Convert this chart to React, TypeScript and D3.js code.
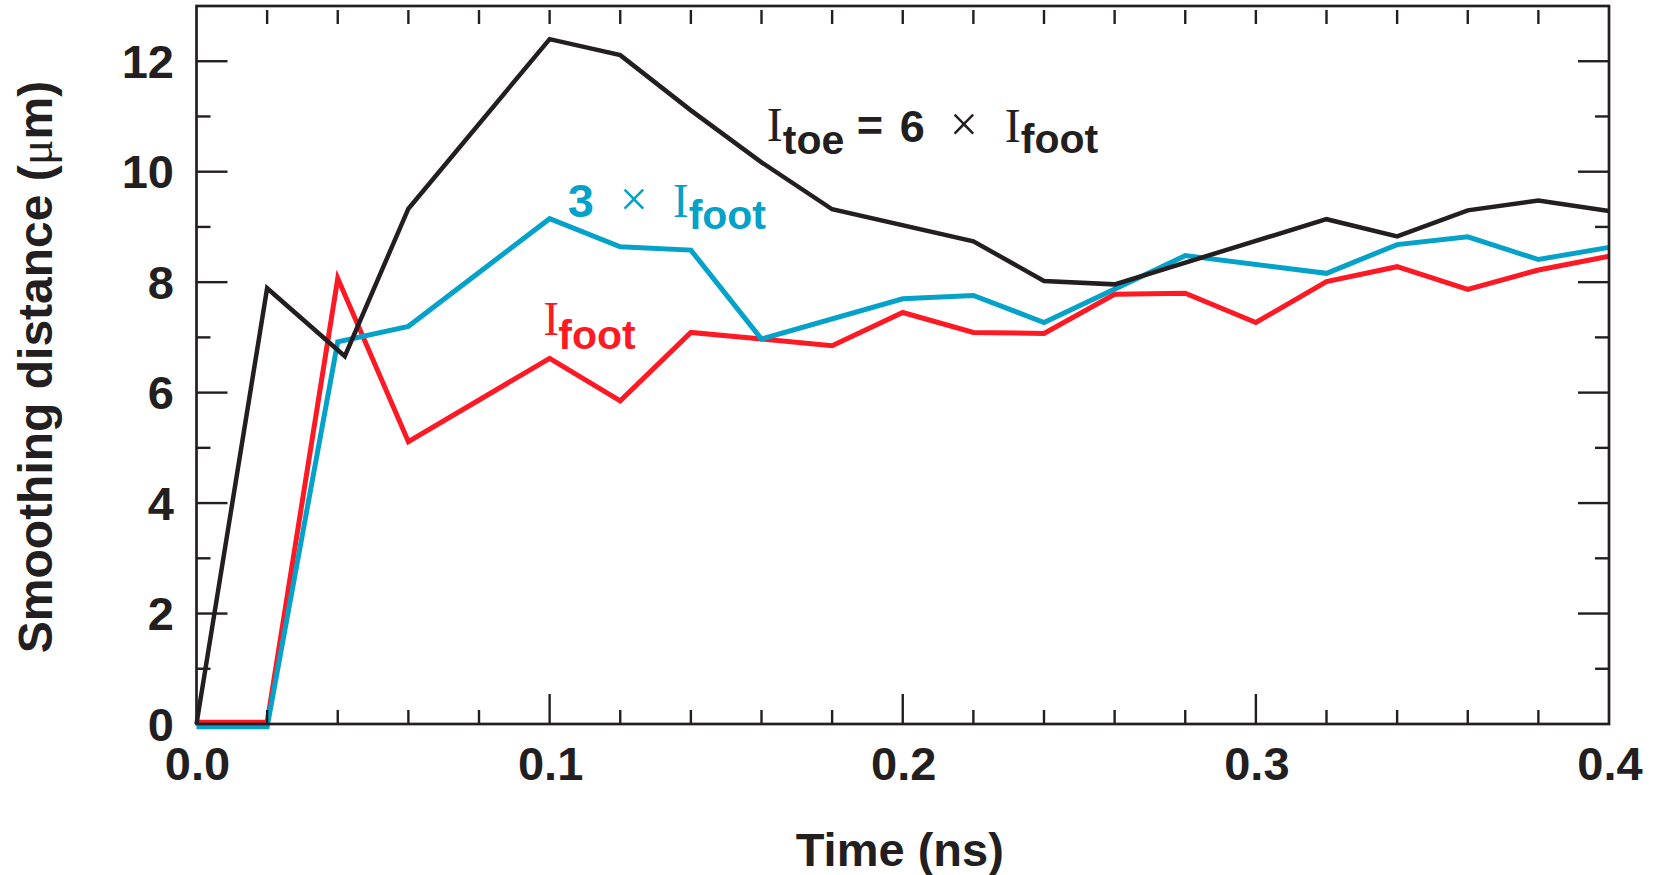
import React from "react";
import * as d3 from "d3";

// ---- Data ----
const toeX = [0, 0.02, 0.042, 0.06, 0.10, 0.12, 0.14, 0.16, 0.18, 0.22, 0.24, 0.26, 0.32, 0.34, 0.36, 0.38, 0.40];
const toeY = [0, 7.89, 6.66, 9.33, 12.40, 12.11, 11.11, 10.17, 9.32, 8.74, 8.02, 7.96, 9.14, 8.83, 9.30, 9.48, 9.29];

const threeX = [0, 0.02, 0.04, 0.06, 0.10, 0.12, 0.14, 0.16, 0.20, 0.22, 0.24, 0.28, 0.32, 0.34, 0.36, 0.38, 0.40];
const threeY = [-0.05, -0.05, 6.92, 7.20, 9.15, 8.64, 8.58, 6.97, 7.70, 7.76, 7.27, 8.48, 8.16, 8.68, 8.82, 8.41, 8.63];

const footX = [0, 0.02, 0.04, 0.06, 0.10, 0.12, 0.14, 0.16, 0.18, 0.20, 0.22, 0.24, 0.26, 0.28, 0.30, 0.32, 0.34, 0.36, 0.38, 0.40];
const footY = [0.03, 0.03, 8.07, 5.11, 6.62, 5.85, 7.09, 6.97, 6.85, 7.45, 7.09, 7.07, 7.78, 7.80, 7.27, 8.01, 8.28, 7.87, 8.22, 8.47];

const xTickLabels = [0, 0.1, 0.2, 0.3, 0.4];
const yTickLabels = [0, 2, 4, 6, 8, 10, 12];

const W = 1659;
const H = 875;
const M = { left: 196.5, right: 1609, top: 6, bottom: 724 };

const INK = "#231f20";
const BLUE = "#04a2c8";
const RED = "#fe1a24";
const SANS = "'Liberation Sans', Arial, Helvetica, sans-serif";
const SERIF = "'Liberation Serif', 'Times New Roman', serif";

export default function App() {
  const x = d3.scaleLinear().domain([0, 0.4]).range([M.left, M.right]);
  const y = d3.scaleLinear().domain([0, 13]).range([M.bottom, M.top]);

  const line = d3
    .line<[number, number]>()
    .x((d) => x(d[0]))
    .y((d) => y(d[1]))
    .curve(d3.curveLinear);

  const zip = (xs: number[], ys: number[]) => xs.map((v, i) => [v, ys[i]] as [number, number]);

  const xMinor = d3.range(1, 20).map((i) => i * 0.02);
  const yMinor = d3.range(1, 13);

  const MAJ = 30;
  const MIN = 14;

  // annotation anchors in data units
  const tA = { x: x(0.1615), y: y(10.556) };
  const bA = { x: x(0.1051), y: y(9.179) };
  const rA = { x: x(0.0982), y: y(7.044) };

  return (
    <svg
      width={W}
      height={H}
      style={{ position: "absolute", left: 0, top: 0, background: "#fff" }}
    >
      {/* series */}
      <path d={line(zip(footX, footY)) || ""} fill="none" stroke={RED} strokeWidth={5} />
      <path d={line(zip(threeX, threeY)) || ""} fill="none" stroke={BLUE} strokeWidth={5} />
      <path d={line(zip(toeX, toeY)) || ""} fill="none" stroke={INK} strokeWidth={4.5} />

      {/* ticks */}
      <g stroke={INK} strokeWidth={2.4}>
        {xMinor.map((t, i) => {
          const major = i % 5 === 4;
          const L = major ? MAJ : MIN;
          return (
            <g key={"xt" + i}>
              <line x1={x(t)} x2={x(t)} y1={M.bottom} y2={M.bottom - L} />
              <line x1={x(t)} x2={x(t)} y1={M.top + 4} y2={M.top + 4 + MIN} />
            </g>
          );
        })}
        {yMinor.map((t) => {
          const L = t % 2 === 0 ? MAJ + 1 : MIN;
          return (
            <g key={"yt" + t}>
              <line x1={M.left} x2={M.left + L} y1={y(t)} y2={y(t)} />
              <line x1={M.right} x2={M.right - L} y1={y(t)} y2={y(t)} />
            </g>
          );
        })}
      </g>

      {/* frame */}
      <rect
        x={M.left}
        y={M.top}
        width={M.right - M.left}
        height={M.bottom - M.top}
        fill="none"
        stroke={INK}
        strokeWidth={2.7}
      />

      {/* tick labels */}
      <g fill={INK} fontFamily={SANS} fontWeight="bold" fontSize={47}>
        {xTickLabels.map((t) => (
          <text key={"xl" + t} x={x(t) + 1} y={780} textAnchor="middle">
            {t.toFixed(1)}
          </text>
        ))}
        {yTickLabels.map((t) => (
          <text key={"yl" + t} x={174} y={y(t) + 16.5} textAnchor="end">
            {t}
          </text>
        ))}
      </g>

      {/* axis titles */}
      <text
        x={(M.left + M.right) / 2 - 3}
        y={866}
        textAnchor="middle"
        fill={INK}
        fontFamily={SANS}
        fontWeight="bold"
        fontSize={47}
      >
        Time (ns)
      </text>
      <text
        transform={`translate(52, ${(M.top + M.bottom) / 2 + 2}) rotate(-90)`}
        textAnchor="middle"
        fill={INK}
        fontFamily={SANS}
        fontWeight="bold"
        fontSize={48}
      >
        Smoothing distance (
        <tspan fontFamily={SERIF} fontWeight="normal">μ</tspan>
        m)
      </text>

      {/* annotations */}
      <g fill={INK}>
        <text x={tA.x} y={tA.y} fontFamily={SERIF} fontSize={48}>I</text>
        <text x={tA.x + 16} y={tA.y + 13} fontFamily={SANS} fontWeight="bold" fontSize={41}>toe</text>
        <text x={tA.x + 90} y={tA.y} fontFamily={SANS} fontWeight="bold" fontSize={45}>=</text>
        <text x={tA.x + 133} y={tA.y + 1} fontFamily={SANS} fontWeight="bold" fontSize={45}>6</text>
        <text x={tA.x + 183} y={tA.y} fontFamily={SERIF} fontSize={50}>×</text>
        <text x={tA.x + 238} y={tA.y + 0.7} fontFamily={SERIF} fontSize={48}>I</text>
        <text x={tA.x + 254} y={tA.y + 12.3} fontFamily={SANS} fontWeight="bold" fontSize={41}>foot</text>
      </g>
      <g fill={BLUE}>
        <text x={bA.x} y={bA.y} fontFamily={SANS} fontWeight="bold" fontSize={47}>3</text>
        <text x={bA.x + 52} y={bA.y - 1} fontFamily={SERIF} fontSize={50}>×</text>
        <text x={bA.x + 105} y={bA.y - 0.3} fontFamily={SERIF} fontSize={48}>I</text>
        <text x={bA.x + 121} y={bA.y + 12.3} fontFamily={SANS} fontWeight="bold" fontSize={41}>foot</text>
      </g>
      <g fill={RED}>
        <text x={rA.x} y={rA.y} fontFamily={SERIF} fontSize={48}>I</text>
        <text x={rA.x + 15} y={rA.y + 14.3} fontFamily={SANS} fontWeight="bold" fontSize={41}>foot</text>
      </g>
    </svg>
  );
}
